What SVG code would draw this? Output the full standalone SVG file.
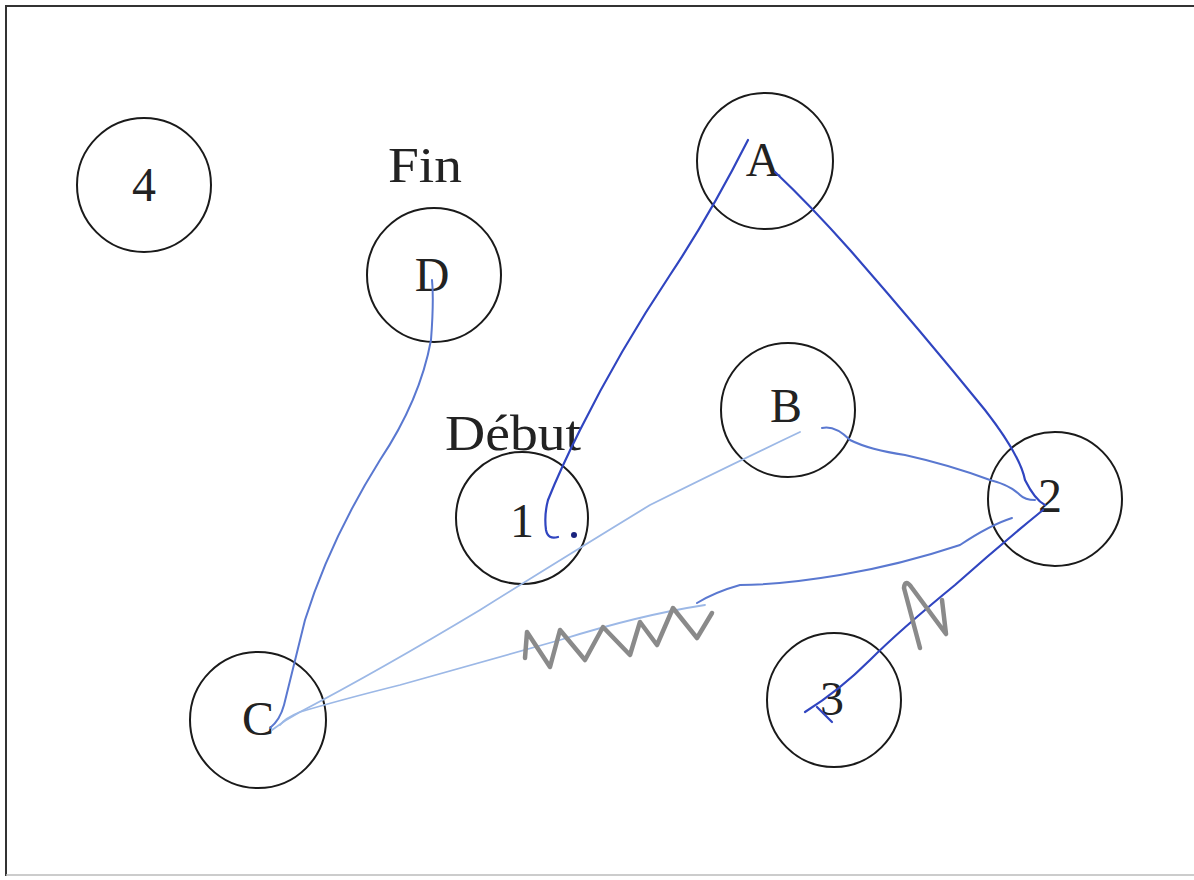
<svg xmlns="http://www.w3.org/2000/svg" width="1194" height="880" viewBox="0 0 1194 880">
<style>
.node circle{fill:none;stroke:#1a1a1a;stroke-width:2}
.lbl{font-family:"Liberation Serif","Times New Roman",serif;font-size:48px;fill:#222;text-anchor:middle}
.cap{font-family:"Liberation Serif","Times New Roman",serif;font-size:50px;fill:#222}
.dark{fill:none;stroke:#3045c0;stroke-width:2.2;stroke-linecap:round;stroke-linejoin:round}
.mid{fill:none;stroke:#5a78d0;stroke-width:2;stroke-linecap:round;stroke-linejoin:round}
.light{fill:none;stroke:#9cb8e6;stroke-width:1.8;stroke-linecap:round;stroke-linejoin:round}
.grey{fill:none;stroke:#8a8a8a;stroke-width:4.5;stroke-linecap:round;stroke-linejoin:round}
</style>
<rect x="0" y="0" width="1194" height="880" fill="#fff"/>
<path d="M6,876 L6,6 L1194,6" fill="none" stroke="#333" stroke-width="2"/>
<line x1="6" y1="875" x2="1194" y2="875" stroke="#bbb" stroke-width="1.5"/>
<g id="node-4" class="node"><circle cx="144" cy="185" r="67"/><text class="lbl" x="144" y="201">4</text></g>
<g id="node-D" class="node"><circle cx="434" cy="275" r="67"/><text class="lbl" x="432" y="291">D</text></g>
<g id="node-A" class="node"><circle cx="765" cy="161" r="68"/><text class="lbl" x="763" y="176">A</text></g>
<g id="node-B" class="node"><circle cx="788" cy="410" r="67"/><text class="lbl" x="786" y="422">B</text></g>
<g id="node-1" class="node"><circle cx="522" cy="518" r="66"/><text class="lbl" x="522" y="537">1</text></g>
<g id="node-2" class="node"><circle cx="1055" cy="499" r="67"/><text class="lbl" x="1050" y="512">2</text></g>
<g id="node-3" class="node"><circle cx="834" cy="700" r="67"/><text class="lbl" x="832" y="715">3</text></g>
<g id="node-C" class="node"><circle cx="258" cy="720" r="68"/><text class="lbl" x="258" y="735">C</text></g>
<text class="cap" x="388" y="182" textLength="74" lengthAdjust="spacingAndGlyphs">Fin</text>
<text class="cap" x="445" y="450" textLength="136" lengthAdjust="spacingAndGlyphs">Début</text>
<g id="connectors">
<path class="mid" d="M432,280 Q434,300 431,340 Q420,400 380,460 Q330,540 305,620 Q290,680 284,705 Q280,720 270,728"/>
<path class="dark" d="M558,537 Q548,540 546,530 Q544,515 548,500 Q560,470 580,430 Q620,350 670,275 Q710,215 748,140"/>
<path class="dark" d="M775,172 Q810,205 850,250 Q920,330 985,410 Q1020,455 1025,480 Q1035,500 1045,505"/>
<path class="mid" d="M822,428 Q835,425 850,440 Q870,450 905,455 Q950,465 990,480 Q1010,485 1020,495 Q1025,500 1035,500"/>
<path class="light" d="M800,432 Q720,470 650,505 Q560,560 480,610 Q380,670 300,712 Q285,720 272,730"/>
<path class="mid" d="M1012,518 Q990,525 960,545 Q900,565 840,575 Q780,585 740,585 Q715,592 697,603"/>
<path class="light" d="M705,605 Q640,615 560,640 Q470,665 400,685 Q340,700 300,712 Q285,718 280,725"/>
<path class="dark" d="M1043,510 Q1000,545 955,585 Q900,630 870,660 Q840,690 805,712"/>
<path class="dark" d="M817,707 Q825,715 832,722"/>
<circle cx="574" cy="535" r="3" fill="#1a237e"/>
</g>
<path class="grey" d="M525,658 L527,632 L550,667 L560,630 L585,660 L603,627 L630,655 L640,622 L657,645 L673,608 L697,638 L712,613"/>
<path class="grey" d="M920,648 L904,588 Q905,578 912,588 L946,634 L942,600"/>
</svg>
